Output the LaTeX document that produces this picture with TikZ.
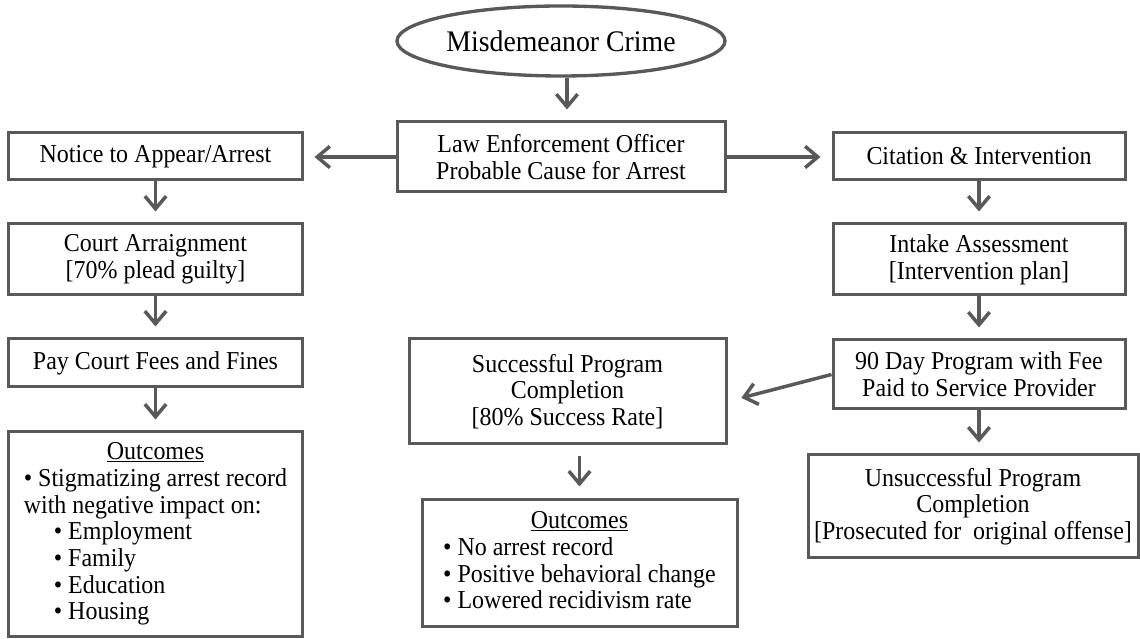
\documentclass[tikz,border=0pt]{standalone}
\usepackage{fontspec}
\setmainfont[FakeStretch=0.93]{Liberation Serif}
\usetikzlibrary{shapes.geometric,arrows.meta}
\definecolor{linegray}{RGB}{89,89,89}
\tikzset{
  box/.style={draw=linegray, line width=0.090000cm, inner sep=0pt, align=center, minimum width=8.790000cm},
  flowarrow/.style={draw=linegray, line width=0.105000cm, -{Straight Barb[length=0.380000cm,width=0.640000cm]}, shorten >=0.330000cm},
}
\begin{document}
\begin{tikzpicture}[font=\fontsize{22.0}{22.8}\selectfont]
                \useasboundingbox (0,0) rectangle (34.200000,19.170000);
                
                % Drawing start ellipse
                \node[ellipse, draw=linegray, line width=0.100000cm, inner sep=0pt, minimum width=9.840000cm, minimum height=2.100000cm, font=\fontsize{25.5}{26}\selectfont] (crime) at (16.830000,17.940000) {Misdemeanor Crime};%
                
                % Drawing box Law
                \node[box, minimum width=9.840000cm, minimum height=2.100000cm] (law) at (16.830000,14.460000) {Law Enforcement Officer\\Probable Cause for Arrest};%
                
                % Drawing left column
                \node[box, minimum height=1.410000cm] (notice) at (4.665000,14.475000) {Notice to Appear/Arrest};%
                \node[box, minimum height=2.130000cm] (court) at (4.665000,11.385000) {Court Arraignment\\{[70\% plead guilty]}};%
                \node[box, minimum height=1.440000cm] (pay) at (4.665000,8.280000) {Pay Court Fees and Fines};%
                \node[box, minimum height=6.150000cm] (outleft) at (4.665000,3.135000) {\begin{tabular}{@{}l@{}}\multicolumn{1}{@{}c@{}}{\underline{Outcomes}}\\• Stigmatizing arrest record\\with negative impact on:\\\hspace*{0.900000cm}• Employment\\\hspace*{0.900000cm}• Family\\\hspace*{0.900000cm}• Education\\\hspace*{0.900000cm}• Housing\end{tabular}};%
                
                % Drawing right column
                \node[box, minimum width=8.760000cm, minimum height=1.410000cm] (citation) at (29.370000,14.475000) {Citation \& Intervention};%
                \node[box, minimum width=8.760000cm, minimum height=2.130000cm] (intake) at (29.370000,11.385000) {Intake Assessment\\{[Intervention plan]}};%
                \node[box, minimum width=8.760000cm, minimum height=2.070000cm] (dayprog) at (29.370000,7.935000) {90 Day Program with Fee\\Paid to Service Provider};%
                \node[box, minimum width=9.900000cm, minimum height=3.090000cm] (unsucc) at (29.190000,3.975000) {Unsuccessful Program\\Completion\\{[Prosecuted for~~original offense]}};%
                
                % Drawing middle column
                \node[box, minimum width=9.510000cm, minimum height=3.150000cm] (success) at (17.025000,7.425000) {Successful Program\\Completion\\{[80\% Success Rate]}};%
                \node[box, minimum width=9.450000cm, minimum height=3.810000cm] (outmid) at (17.385000,2.265000) {\begin{tabular}{@{}l@{}}\multicolumn{1}{@{}c@{}}{\underline{Outcomes}}\\• No arrest record\\• Positive behavioral change\\• Lowered recidivism rate\end{tabular}};%
                
                % Drawing arrows
                \draw[flowarrow] ([xshift=0.180000cm]crime.south) -- ([xshift=0.180000cm]law.north);%
                \draw[flowarrow] (law.west) -- (law.west -| notice.east);%
                \draw[flowarrow] (law.east) -- (law.east -| citation.west);%
                \draw[flowarrow] (notice) -- (court);%
                \draw[flowarrow] (court) -- (pay);%
                \draw[flowarrow] (pay) -- (outleft);%
                \draw[flowarrow] (citation) -- (intake);%
                \draw[flowarrow] (intake) -- (dayprog);%
                \draw[flowarrow] (dayprog.south) -- (dayprog.south |- unsucc.north);%
                \draw[flowarrow, shorten >=0.430000cm] (dayprog.west) -- ([yshift=-0.300000cm]success.east);%
                \draw[flowarrow, shorten <=0.330000cm, shorten >=0.360000cm] (outmid.north |- success.south) -- (outmid.north);%
            \end{tikzpicture}
\end{document}
